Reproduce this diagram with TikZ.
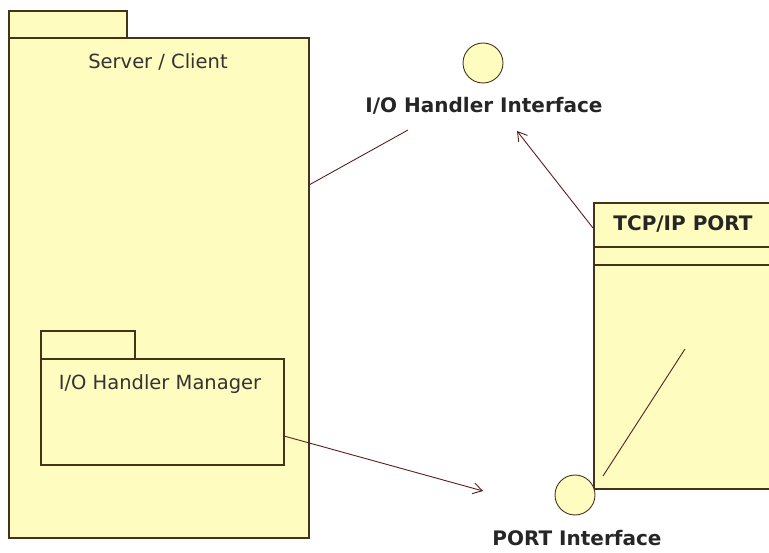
\documentclass[tikz,border=0pt]{standalone}
\usepackage{fontspec}
\setmainfont{DejaVu Sans}
\usetikzlibrary{arrows.meta}
\definecolor{pkgfill}{RGB}{255,252,192}
\definecolor{pkgline}{RGB}{70,50,25}
\definecolor{conline}{RGB}{90,30,30}
\tikzset{
  pkg/.style={draw=pkgline, fill=pkgfill, line width=1.2pt},
  lolli/.style={draw=pkgline, fill=pkgfill, line width=0.9pt, circle, minimum size=40pt, inner sep=0pt},
  conn/.style={draw=conline, line width=0.9pt},
  dep/.style={conn, -{Straight Barb[length=9pt,width=11pt,line width=0.9pt]}},
  lbl/.style={font=\fontsize{19.5}{22}\selectfont, text=black!80, inner sep=0pt},
  blbl/.style={font=\fontsize{20}{23}\selectfont\bfseries, text=black!85, inner sep=0pt}
}
\begin{document}
\begin{tikzpicture}[x=1pt,y=-1pt]
\useasboundingbox (0,0) rectangle (769,553);
% Server / Client package
\draw[pkg] (9,11) rectangle (127,38);
\draw[pkg] (9,38) rectangle (309,538);
\coordinate (scA) at (309,185);
\node[lbl] (sc) at (158,62) {Server / Client};
% I/O Handler Manager package
\draw[pkg] (41,331) rectangle (135,359);
\draw[pkg] (41,359) rectangle (284,465);
\coordinate (mgrA) at (284,436);
\node[lbl] (mgr) at (160,384) {I/O Handler Manager};
% TCP/IP PORT class
\draw[pkg] (594,203) rectangle (775,489);
\draw[pkg] (594,247) -- (775,247);
\draw[pkg] (594,265) -- (775,265);
\node[blbl] (tcp) at (683,224) {TCP/IP PORT};
\coordinate (tcpA) at (593,228);
\coordinate (tcpB) at (603,476);
\coordinate (tcpC) at (685,349);
% Interfaces
\node[lolli] (ioi) at (483,63) {};
\node[blbl] (ioil) at (484,106) {I/O Handler Interface};
\coordinate (ioiA) at (408,130);
\coordinate (ioiB) at (517,131);
\node[lolli] (pi) at (575,495) {};
\node[blbl] (pil) at (577,538) {PORT Interface};
\coordinate (piA) at (483,491);
% Connectors
\draw[conn] (scA) -- (ioiA);
\draw[dep] (tcpA) -- (ioiB);
\draw[dep] (mgrA) -- (piA);
\draw[conn] (tcpB) -- (tcpC);
\end{tikzpicture}
\end{document}
